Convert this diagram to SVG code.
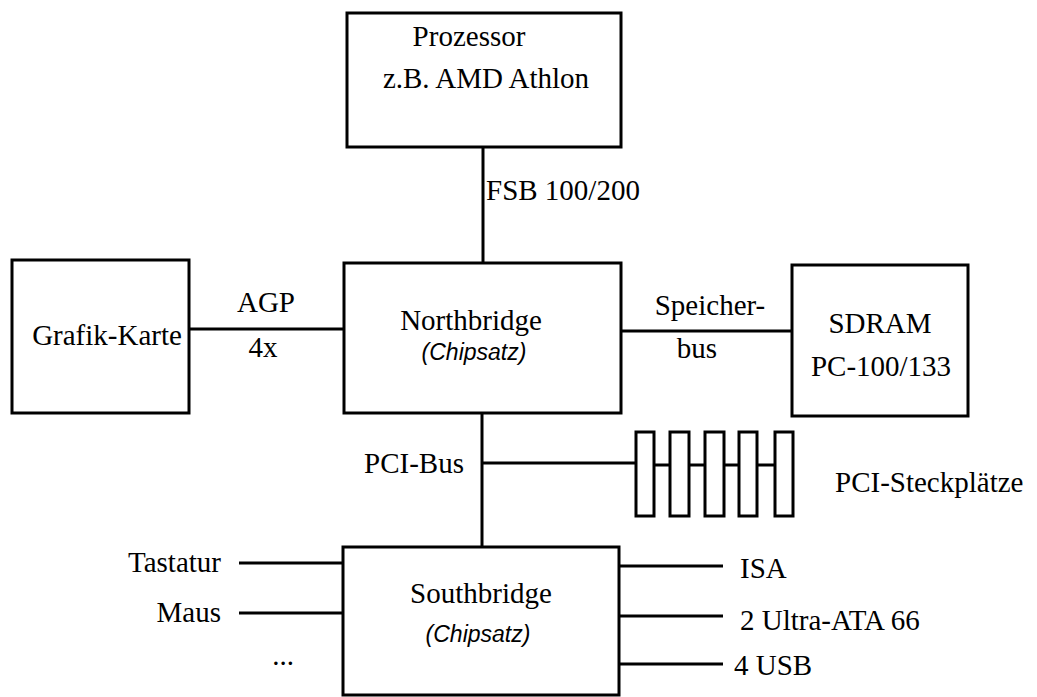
<svg xmlns="http://www.w3.org/2000/svg" width="1037" height="697" viewBox="0 0 1037 697">
<style>
.box{fill:#fff;stroke:#000;stroke-width:3}
.ln{fill:none;stroke:#000;stroke-width:3}
.t{font-family:"Liberation Serif","Times New Roman",serif;font-size:29px;fill:#000}
.i{font-family:"Liberation Sans",Arial,sans-serif;font-size:23px;font-style:italic;fill:#000}
.m{text-anchor:middle}
.e{text-anchor:end}
</style>
<rect width="1037" height="697" fill="#fff"/>
<g id="connectors">
<line class="ln" x1="483" y1="147" x2="483" y2="263"/>
<line class="ln" x1="189" y1="329" x2="344" y2="329"/>
<line class="ln" x1="621" y1="331" x2="792" y2="331"/>
<line class="ln" x1="482" y1="413" x2="482" y2="547"/>
<line class="ln" x1="482" y1="463" x2="636" y2="463"/>
<line class="ln" x1="654" y1="465" x2="670" y2="465"/>
<line class="ln" x1="689" y1="465" x2="705" y2="465"/>
<line class="ln" x1="724" y1="465" x2="739" y2="465"/>
<line class="ln" x1="757" y1="465" x2="775" y2="465"/>
<line class="ln" x1="239" y1="563" x2="343" y2="563"/>
<line class="ln" x1="239" y1="613" x2="343" y2="613"/>
<line class="ln" x1="619" y1="566" x2="723" y2="566"/>
<line class="ln" x1="619" y1="616" x2="723" y2="616"/>
<line class="ln" x1="619" y1="664" x2="723" y2="664"/>
<text class="t" x="486" y="200">FSB 100/200</text>
<text class="t m" x="266" y="312">AGP</text>
<text class="t m" x="263" y="357">4x</text>
<text class="t m" x="710" y="315">Speicher-</text>
<text class="t m" x="697" y="358">bus</text>
<text class="t" x="364" y="473">PCI-Bus</text>
</g>
<g id="prozessor">
<rect class="box" x="347" y="13" width="274" height="134"/>
<text class="t m" x="469" y="46">Prozessor</text>
<text class="t m" x="486" y="88">z.B. AMD Athlon</text>
</g>
<g id="grafik">
<rect class="box" x="12" y="260" width="177" height="153"/>
<text class="t m" x="107" y="345">Grafik-Karte</text>
</g>
<g id="northbridge">
<rect class="box" x="344" y="263" width="277" height="150"/>
<text class="t m" x="471" y="330">Northbridge</text>
<text class="i m" x="474" y="360">(Chipsatz)</text>
</g>
<g id="sdram">
<rect class="box" x="792" y="265" width="176" height="151"/>
<text class="t m" x="880" y="333">SDRAM</text>
<text class="t m" x="881" y="376">PC-100/133</text>
</g>
<g id="slots">
<rect class="box" x="636" y="432" width="18" height="84"/>
<rect class="box" x="670" y="432" width="19" height="84"/>
<rect class="box" x="705" y="432" width="19" height="84"/>
<rect class="box" x="739" y="432" width="18" height="84"/>
<rect class="box" x="775" y="432" width="18" height="84"/>
<text class="t" x="835" y="492">PCI-Steckplätze</text>
</g>
<g id="southbridge">
<rect class="box" x="343" y="547" width="276" height="148"/>
<text class="t m" x="481" y="603">Southbridge</text>
<text class="i m" x="478" y="642">(Chipsatz)</text>
</g>
<g id="peripherals">
<text class="t e" x="221" y="572">Tastatur</text>
<text class="t e" x="221" y="622">Maus</text>
<text class="t m" x="283" y="665">...</text>
<text class="t" x="740" y="578">ISA</text>
<text class="t" x="740" y="630">2 Ultra-ATA 66</text>
<text class="t" x="734" y="675">4 USB</text>
</g>
</svg>
